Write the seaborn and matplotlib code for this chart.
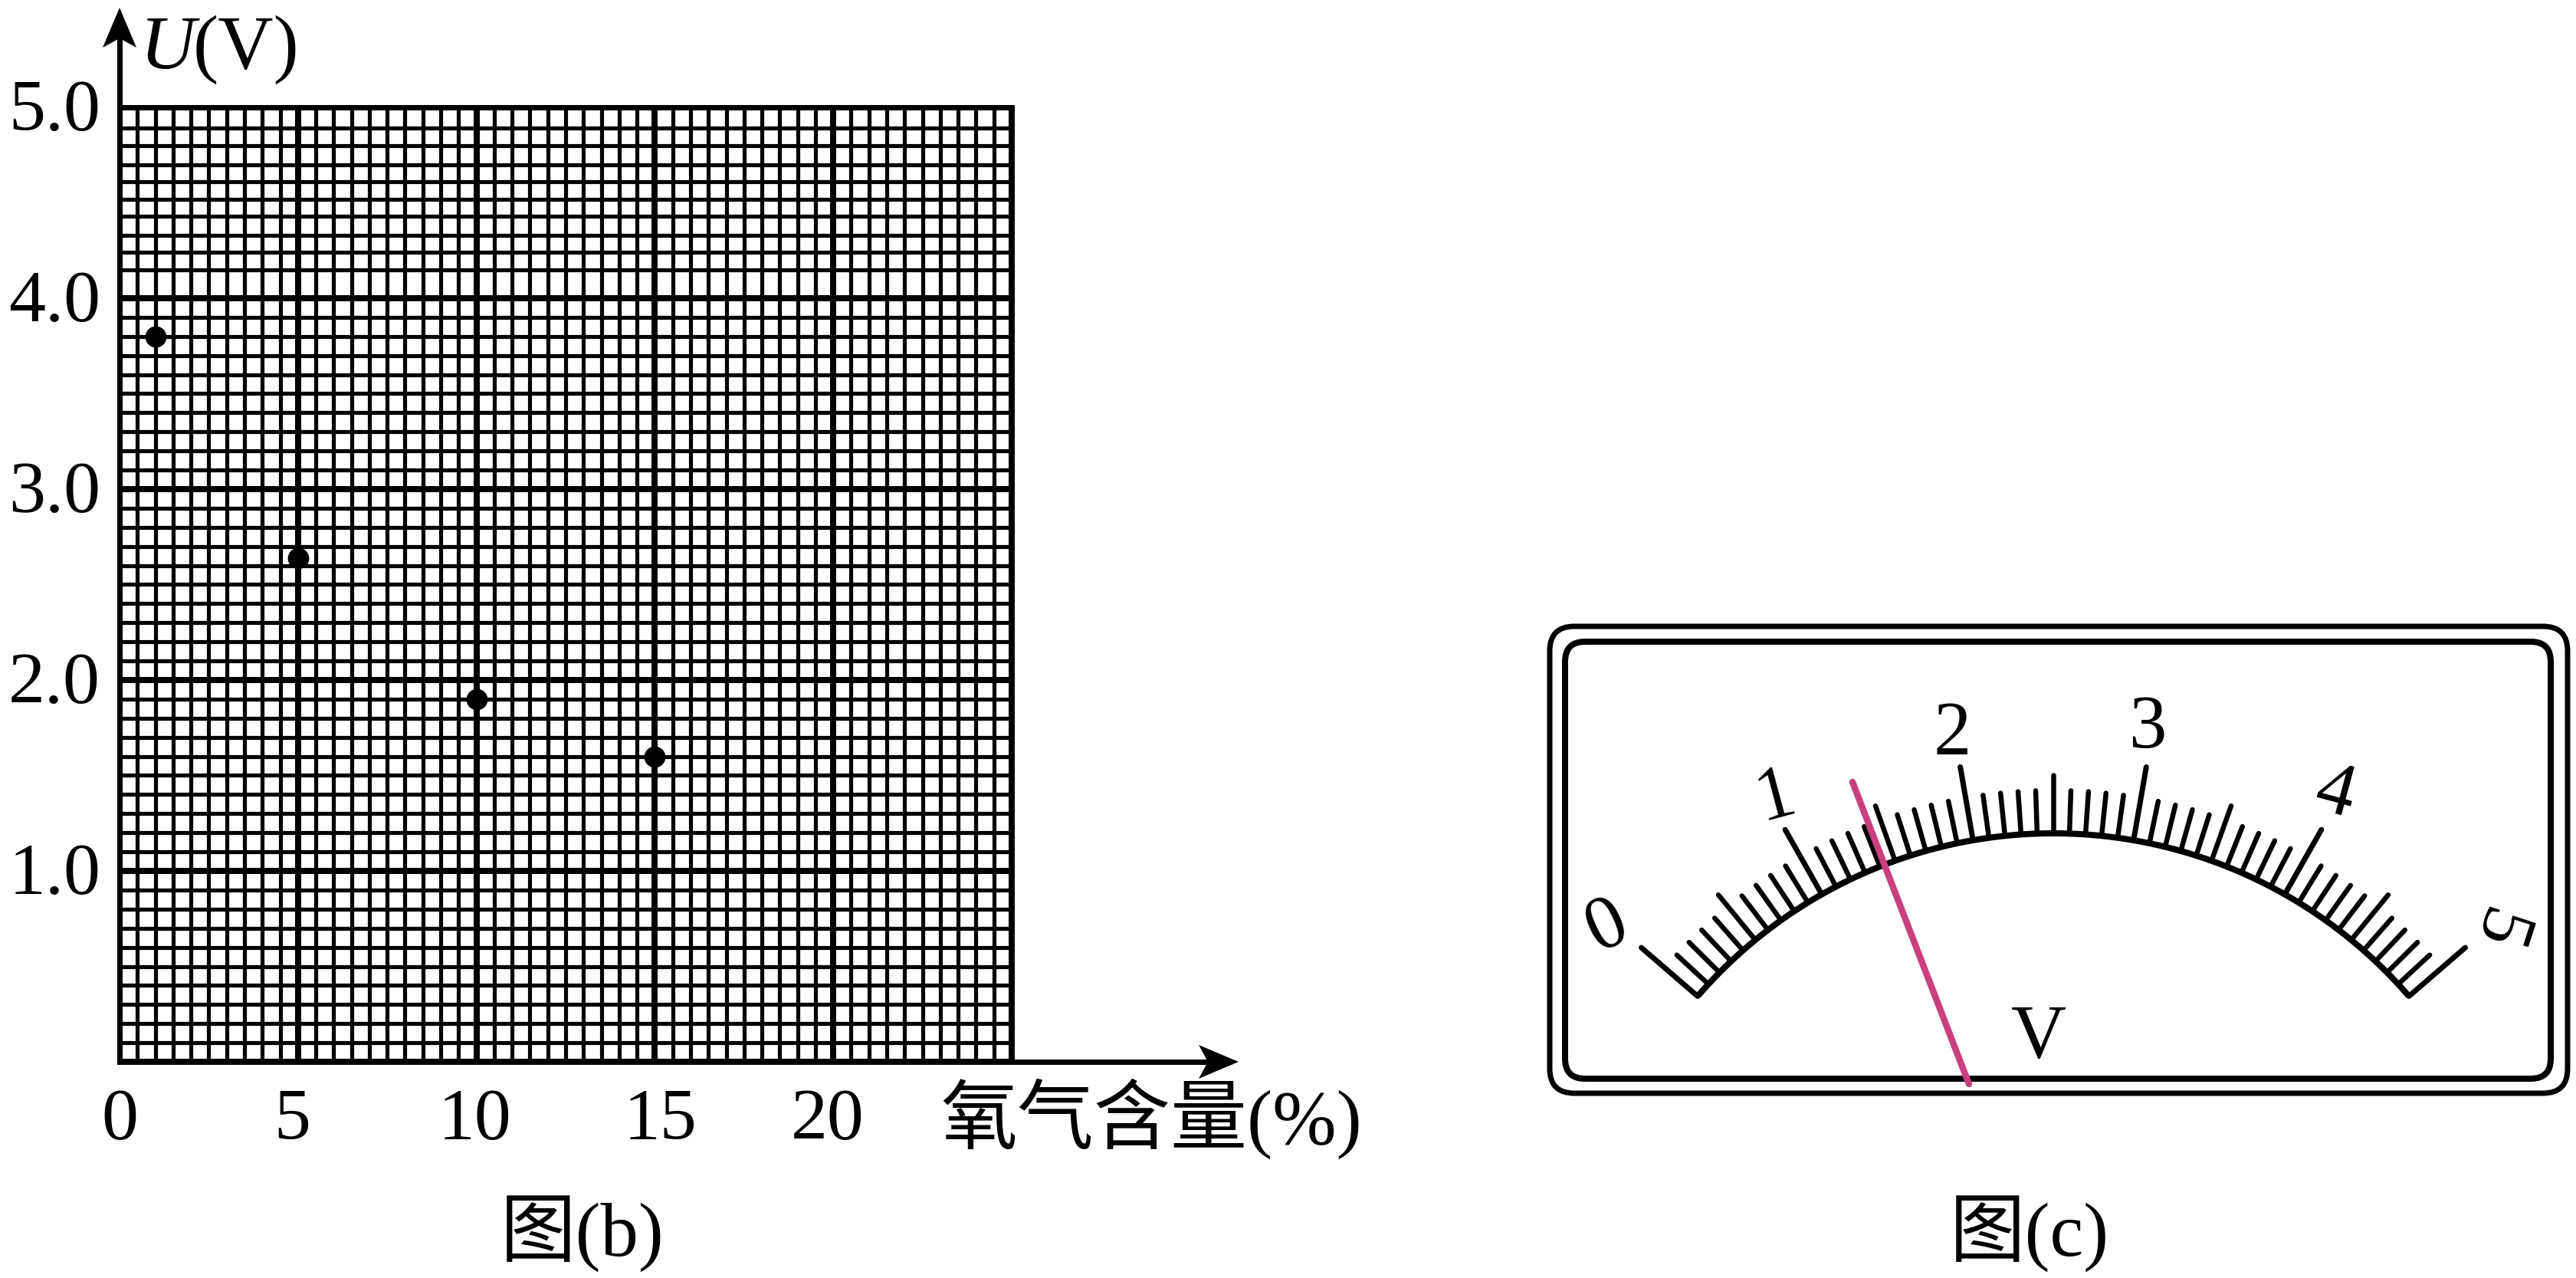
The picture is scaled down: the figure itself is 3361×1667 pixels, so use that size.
import numpy as np
import pandas as pd
import matplotlib
matplotlib.use("Agg")
import matplotlib.pyplot as plt
from matplotlib.patches import FancyBboxPatch, Polygon
from matplotlib.transforms import ScaledTranslation
import seaborn as sns

# ---- data ----
oxygen = [1, 5, 10, 15]
voltage = [3.8, 2.64, 1.9, 1.6]
x_major = [0, 5, 10, 15, 20, 25]
x_labels = ["0", "5", "10", "15", "20", ""]
x_label_shift_px = [0, -8, -2, 7, -8, 0]
y_major = [0, 1, 2, 3, 4, 5]
y_labels = ["", "1.0", "2.0", "3.0", "4.0", "5.0"]
y_minor_top = [4.89, 4.80, 4.70, 4.61, 4.52, 4.43, 4.33, 4.24, 4.15]
dial_labels = ["0", "1", "2", "3", "4", "5"]
dial_label_rot = [25, 15, 0, 0, -15, -108]
dial_divisions = 10

W, H, DPI = 3361, 1667, 100
INK = "#000000"
NEEDLE = "#C9407F"
PX = 72 / DPI

sns.set_theme(style="white")
plt.rcParams["font.family"] = ["Liberation Serif", "Noto Sans CJK SC", "DejaVu Sans"]
plt.rcParams["text.color"] = INK

fig = plt.figure(figsize=(W / DPI, H / DPI), dpi=DPI, facecolor="white")

# ---- graph paper ----
L, R, T, B = 156, 1320, 140, 1385
ax = fig.add_axes([L / W, 1 - B / H, (R - L) / W, (B - T) / H])
df = pd.DataFrame({"oxygen": oxygen, "voltage": voltage})
sns.scatterplot(data=df, x="oxygen", y="voltage", ax=ax, s=400, color=INK,
                edgecolor=INK, linewidth=0, zorder=5, clip_on=False)
ax.set_xlim(0, 25)
ax.set_ylim(0, 5)
ax.set_xlabel("")
ax.set_ylabel("")
ax.set_xticks(x_major, x_labels)
ax.set_yticks(y_major, y_labels)
x_minor = [v for v in np.arange(0, 25.01, 0.5) if v % 5 != 0]
y_regular = [round(v, 1) for v in np.arange(0.1, 3.95, 0.1) if round(v * 10) % 10 != 0]
ax.set_xticks(x_minor, minor=True)
ax.set_yticks(y_regular + y_minor_top, minor=True)
ax.grid(which="major", color=INK, linewidth=8 * PX, zorder=1)
ax.grid(which="minor", color=INK, linewidth=5.2 * PX, zorder=1)
ax.set_axisbelow(True)
ax.tick_params(which="both", length=0)
ax.tick_params(axis="x", which="major", labelsize=69, pad=25, labelcolor=INK)
ax.tick_params(axis="y", which="major", labelsize=69, pad=18, labelcolor=INK)
for s in ax.spines.values():
    s.set_visible(True)
    s.set_color(INK)
    s.set_linewidth(7 * PX)
for lbl, dx in zip(ax.get_xticklabels(), x_label_shift_px):
    lbl.set_transform(lbl.get_transform() + ScaledTranslation(dx / DPI, 0, fig.dpi_scale_trans))
for lbl in ax.get_yticklabels():
    lbl.set_transform(lbl.get_transform() + ScaledTranslation(0, 3 / DPI, fig.dpi_scale_trans))

# ---- pixel overlay for arrows, annotations, and the meter ----
ov = fig.add_axes([0, 0, 1, 1], zorder=10)
ov.set_xlim(0, W)
ov.set_ylim(H, 0)
ov.axis("off")
ov.patch.set_alpha(0)

ov.plot([L, L], [B, 40], color=INK, lw=7 * PX, solid_capstyle="butt")
ov.add_patch(Polygon([(L, 10), (L + 22, 62), (L, 50), (L - 22, 62)], closed=True, fc=INK, ec="none"))
ov.plot([L, 1590], [B, B], color=INK, lw=7 * PX, solid_capstyle="butt")
ov.add_patch(Polygon([(1616, B), (1564, B + 22), (1576, B), (1564, B - 22)], closed=True, fc=INK, ec="none"))

ov.text(183, 89, "U", fontsize=72, style="italic", ha="left", va="baseline")
ov.text(252, 89, "(V)", fontsize=72, ha="left", va="baseline")
ov.text(1227, 1491, "氧气含量(%)", fontsize=72, ha="left", va="baseline")
ov.text(760, 1638, "图(b)", fontsize=71, ha="center", va="baseline")
ov.text(2648, 1638, "图(c)", fontsize=71, ha="center", va="baseline")

# ---- meter ----
for (x0, y0, x1, y1, r, lw) in [(2022, 817, 3350, 1426, 32, 7), (2042, 837, 3328, 1407, 26, 8)]:
    ov.add_patch(FancyBboxPatch((x0 + r, y0 + r), x1 - x0 - 2 * r, y1 - y0 - 2 * r,
                                boxstyle=f"round,pad={r},rounding_size={r}",
                                fc="none", ec=INK, lw=lw * PX))

cx, cy, rad = 2679, 1700, 613
a0, a_step = -49.2, 19.68


def dial_xy(v, r):
    a = np.radians(a0 + a_step * v)
    return cx + r * np.sin(a), cy - r * np.cos(a)


vals = np.linspace(0, 5, 5 * dial_divisions + 1)
ax_x, ax_y = dial_xy(np.linspace(0, 5, 200), rad)
ov.plot(ax_x, ax_y, color=INK, lw=8 * PX, solid_capstyle="butt")
for i, v in enumerate(vals):
    if i % dial_divisions == 0:
        ln, lw = 97, 7
    elif i % 5 == 0:
        ln, lw = 76, 6.5
    else:
        ln, lw = 56, 6.5
    px, py = dial_xy(v, np.array([rad, rad + ln]))
    ov.plot(px, py, color=INK, lw=lw * PX, solid_capstyle="round")

label_pos = [(2097, 1209), (2317, 1040), (2547, 959), (2803, 951), (3046, 1036), (3257, 1211)]
for txt, (lx, ly), rot in zip(dial_labels, label_pos, dial_label_rot):
    ov.text(lx, ly, txt, fontsize=71, rotation=rot, ha="center", va="center",
            rotation_mode="anchor")
ov.text(2660, 1355, "V", fontsize=72, ha="center", va="center")
ov.plot([2417, 2569], [1020, 1414], color=NEEDLE, lw=8.5 * PX, solid_capstyle="round", zorder=6)

fig.savefig("out.png", dpi=DPI, facecolor="white")
